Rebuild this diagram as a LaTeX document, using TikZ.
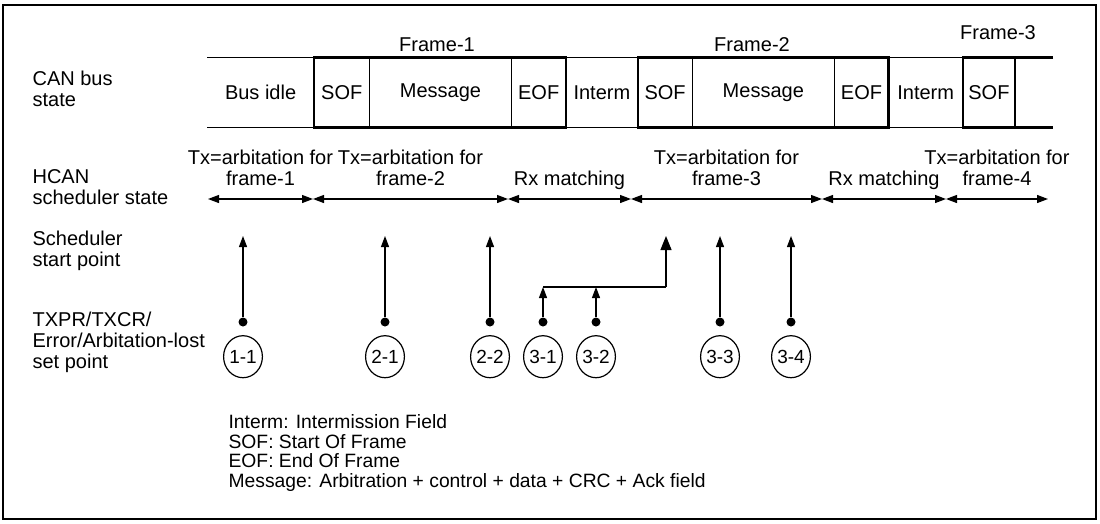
\documentclass[tikz,border=0pt]{standalone}
\usepackage{fontspec}
\setmainfont{Liberation Sans}
\usetikzlibrary{arrows.meta, positioning, shapes.geometric}

\begin{document}
\begin{tikzpicture}[
    x=1pt, y=-1pt,
    line width=1.2pt,
    font=\fontsize{20}{21}\selectfont,
    >={Triangle[length=11pt, width=8pt]},
    node distance=0pt,
    cell/.style={
        rectangle,
        inner sep=0pt,
        minimum height=69pt
    },
    frm/.style={line width=2.4pt},
    lbl/.style={align=left, anchor=west, inner sep=0pt},
    state/.style={align=center, above=13pt, inner sep=0pt, text depth=0pt},
    dot/.style={circle, fill, inner sep=0pt, minimum size=9pt},
    setpt/.style={
        ellipse,
        draw,
        inner sep=0pt,
        minimum width=36pt,
        minimum height=42pt,
        font=\fontsize{19}{19}\selectfont
    }
]
\useasboundingbox (0,0) rectangle (1100,523);
\draw[line width=2pt] (3,5) rectangle (1096,519);

% CAN bus state row
\node[cell, anchor=west, minimum width=106pt] (idle) at (207,92.5) {Bus idle};
\node[cell, right=of idle, minimum width=54pt] (sofA) {SOF};
\node[cell, right=of sofA, minimum width=141pt] (msgA) {Message};
\node[cell, right=of msgA, minimum width=53pt] (eofA) {EOF};
\node[cell, right=of eofA, minimum width=71pt] (intA) {Interm};
\node[cell, right=of intA, minimum width=53pt] (sofB) {SOF};
\node[cell, right=of sofB, minimum width=141pt] (msgB) {Message};
\node[cell, right=of msgB, minimum width=53pt] (eofB) {EOF};
\node[cell, right=of eofB, minimum width=73pt] (intB) {Interm};
\node[cell, right=of intB, minimum width=51pt] (sofC) {SOF};
\node[cell, right=of sofC, minimum width=37pt] (tail) {};

\draw (idle.north west) -- (tail.north east);
\draw (idle.south west) -- (tail.south east);
\draw (sofA.north east) -- (sofA.south east);
\draw (msgA.north east) -- (msgA.south east);
\draw (sofB.north east) -- (sofB.south east);
\draw (msgB.north east) -- (msgB.south east);
\draw (sofC.north east) -- (sofC.south east);
\draw[frm] (sofA.north west) rectangle (eofA.south east);
\draw[frm] (sofB.north west) rectangle (eofB.south east);
\draw[frm] (tail.north east) -- (sofC.north west) -- (sofC.south west) -- (tail.south east);

\node (fr1) at (437,45) {Frame-1};
\node (fr2) at (752,45) {Frame-2};
\node (fr3) at (998,33) {Frame-3};

% row labels
\node[lbl] (canlbl) at (32,89) {CAN bus\\state};
\node[lbl] (hcanlbl) at (32,187) {HCAN\\scheduler state};
\node[lbl] (schlbl) at (32,251) {Scheduler\\start point};
\node[lbl] (setlbl) at (32,342) {TXPR/TXCR/\\Error/Arbitation-lost\\set point};

% scheduler states
\coordinate (s0) at (208,199);
\coordinate (s1) at (313,199);
\coordinate (s2) at (508,199);
\coordinate (s3) at (631,199);
\coordinate (s4) at (822,199);
\coordinate (s5) at (946,199);
\coordinate (s6) at (1048,199);
\draw[<->] (s0) -- (s1) node[state, midway] {Tx=arbitation for\\frame-1};
\draw[<->] (s1) -- (s2) node[state, midway] {Tx=arbitation for\\frame-2};
\draw[<->] (s2) -- (s3) node[state, midway] {Rx matching};
\draw[<->] (s3) -- (s4) node[state, midway] {Tx=arbitation for\\frame-3};
\draw[<->] (s4) -- (s5) node[state, midway] {Rx matching};
\draw[<->] (s5) -- (s6) node[state, midway] {Tx=arbitation for\\frame-4};

% set points
\coordinate (top) at (0,236);
\coordinate (join) at (666,287);
\node[dot] (d11) at (243,322) {};
\node[dot] (d21) at (385,322) {};
\node[dot] (d22) at (490,322) {};
\node[dot] (d31) at (543,322) {};
\node[dot] (d32) at (596,322) {};
\node[dot] (d33) at (720,322) {};
\node[dot] (d34) at (791,322) {};
\node[setpt, below=8pt of d11] (p11) {1-1};
\node[setpt, below=8pt of d21] (p21) {2-1};
\node[setpt, below=8pt of d22] (p22) {2-2};
\node[setpt, below=8pt of d31] (p31) {3-1};
\node[setpt, below=8pt of d32] (p32) {3-2};
\node[setpt, below=8pt of d33] (p33) {3-3};
\node[setpt, below=8pt of d34] (p34) {3-4};

\draw[->] (d11) -- (d11 |- top);
\draw[->] (d21) -- (d21 |- top);
\draw[->] (d22) -- (d22 |- top);
\draw[->] (d33) -- (d33 |- top);
\draw[->] (d34) -- (d34 |- top);
\draw[->] (d31) -- (d31 |- join);
\draw[->] (d32) -- (d32 |- join);
\draw (d31 |- join) -- (join);
\draw[-{Triangle[length=14pt, width=11pt]}] (join) -- (join |- top);

% legend
\node[anchor=north west, align=left, inner sep=0pt, font=\fontsize{19.3}{19.5}\selectfont] (legend) at (228,414)
    {Interm: Intermission Field\\SOF: Start Of Frame\\EOF: End Of Frame\\Message: Arbitration + control + data + CRC + Ack field};

\end{tikzpicture}
\end{document}
